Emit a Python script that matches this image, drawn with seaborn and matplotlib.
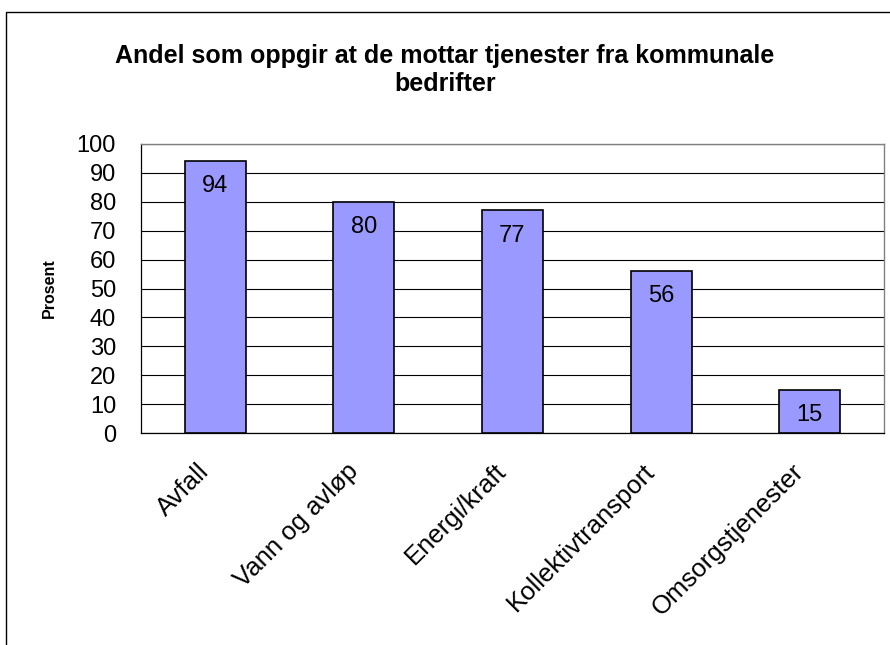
import matplotlib
matplotlib.use("Agg")
import matplotlib.pyplot as plt
import seaborn as sns
import pandas as pd
from matplotlib.patches import Rectangle

# Data
categories = ["Avfall", "Vann og avløp", "Energi/kraft", "Kollektivtransport", "Omsorgstjenester"]
values = [94, 80, 77, 56, 15]
title = "Andel som oppgir at de mottar tjenester fra kommunale\nbedrifter"
y_label = "Prosent"
y_ticks = [0, 10, 20, 30, 40, 50, 60, 70, 80, 90, 100]

df = pd.DataFrame({"kategori": categories, "prosent": values})

sns.set_style("white")
plt.rcParams["font.family"] = ["Liberation Sans", "DejaVu Sans"]
plt.rcParams.update({"text.color": "black", "axes.labelcolor": "black",
                     "xtick.color": "black", "ytick.color": "black"})

fig = plt.figure(figsize=(8.9, 6.45), dpi=100)
ax = fig.add_axes([141 / 890, 1 - 433 / 645, (884 - 141) / 890, (433 - 144) / 645])

sns.barplot(data=df, x="kategori", y="prosent", color="#9999ff", saturation=1,
            edgecolor="black", linewidth=1.2, width=0.41, ax=ax, zorder=3)

ax.bar_label(ax.containers[0], padding=-26, fontsize=17, color="black")

ax.set_ylim(0, 100)
ax.set_xlim(-0.5, len(categories) - 0.5)
ax.set_yticks(y_ticks)
ax.set_xticks(range(len(categories)))
ax.set_xticklabels([""] * len(categories))
ax.set_xticks([i - 0.5 for i in range(len(categories) + 1)], minor=True)
ax.tick_params(axis="x", which="major", length=0)
ax.tick_params(axis="x", which="minor", length=7, width=0.8, color="black", direction="out")
ax.tick_params(axis="y", length=6, width=0.8, color="black", direction="out", labelsize=17, pad=12)
ax.yaxis.grid(True, color="black", linewidth=0.8, zorder=0)
ax.set_axisbelow(True)

# kategorinavn, skrått under hver søyle
for i, cat in enumerate(categories):
    ax.annotate(cat, xy=(i, 0), xycoords=("data", "axes fraction"),
                xytext=(-7, -25), textcoords="offset points",
                rotation=45, ha="right", va="center", rotation_mode="anchor",
                fontsize=18.5, annotation_clip=False)

for side in ["left", "bottom"]:
    ax.spines[side].set_color("black")
    ax.spines[side].set_linewidth(0.9)
for side in ["top", "right"]:
    ax.spines[side].set_color("#808080")
    ax.spines[side].set_linewidth(1.0)

ax.set_xlabel("")
ax.set_ylabel(y_label, fontsize=11.5, fontweight="bold", labelpad=14)

fig.text(0.5, 1 - 70 / 645, title, ha="center", va="center", fontsize=18,
         fontweight="bold", linespacing=1.2)

# ramme rundt diagrammet
fig.add_artist(Rectangle((6 / 890, -0.2), 1.5, 1.2 - 12 / 645, transform=fig.transFigure,
                         fill=False, edgecolor="black", linewidth=1.0))

fig.savefig("out.png", dpi=100)
